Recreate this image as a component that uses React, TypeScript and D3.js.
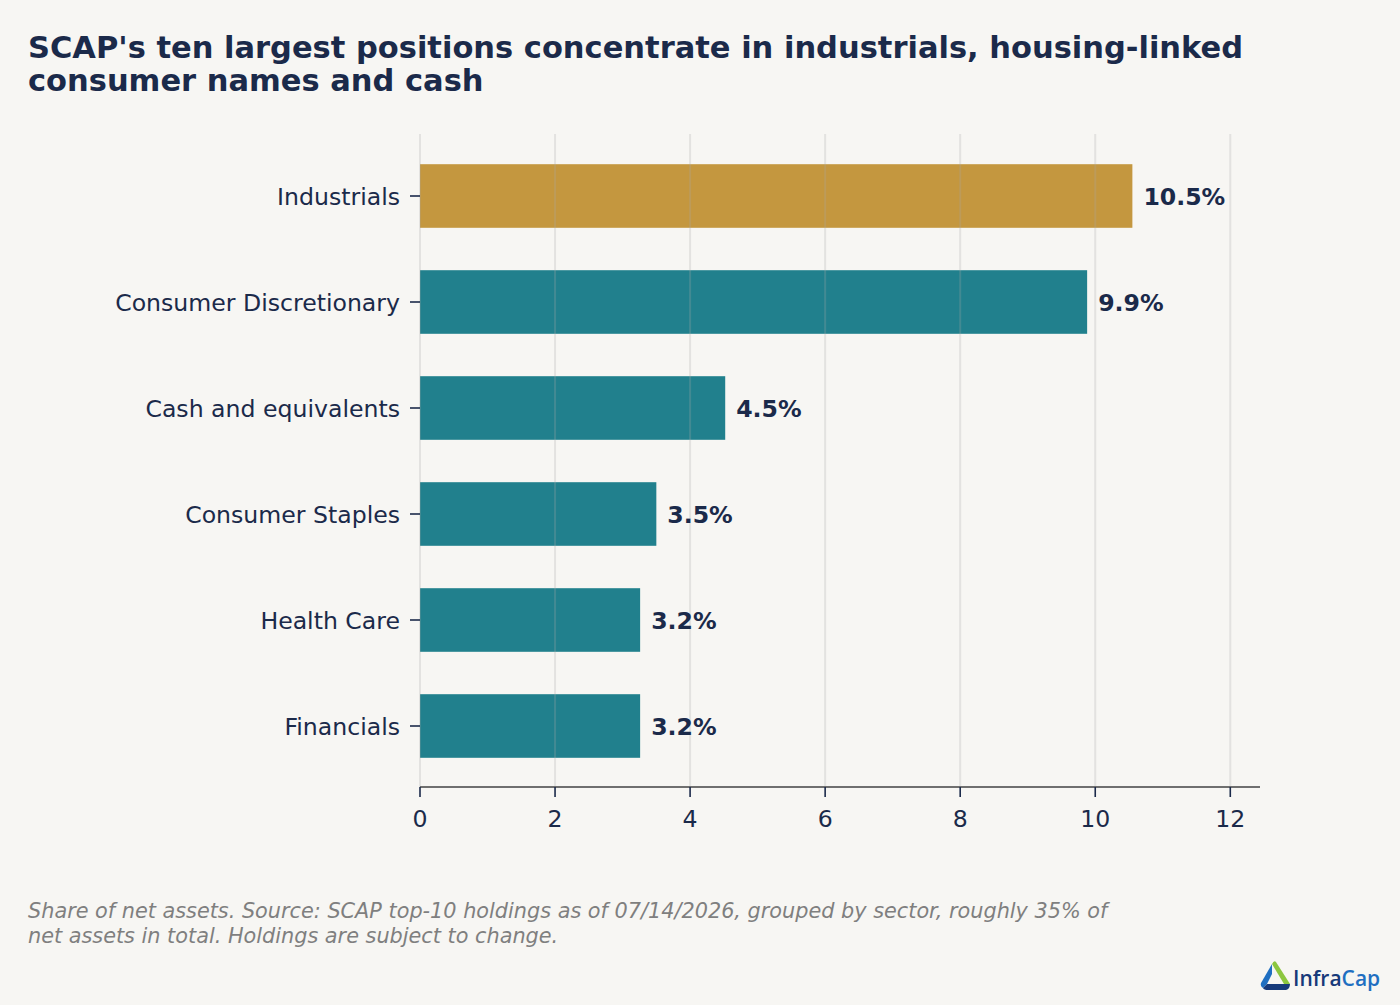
import React from 'react';
import * as d3 from 'd3';

const categories = [
  'Industrials',
  'Consumer Discretionary',
  'Cash and equivalents',
  'Consumer Staples',
  'Health Care',
  'Financials',
];
const shares = [10.55, 9.88, 4.52, 3.5, 3.26, 3.26];
const shareLabels = ['10.5%', '9.9%', '4.5%', '3.5%', '3.2%', '3.2%'];
const xTicks = [0, 2, 4, 6, 8, 10, 12];

const titleLines = [
  "SCAP's ten largest positions concentrate in industrials, housing-linked",
  'consumer names and cash',
];
const noteLines = [
  'Share of net assets. Source: SCAP top-10 holdings as of 07/14/2026, grouped by sector, roughly 35% of',
  'net assets in total. Holdings are subject to change.',
];

const W = 1400;
const H = 1005;
const NAVY = '#1b2a4a';
const TEAL = '#21808d';
const GOLD = '#c4973f';
const FONT = '"DejaVu Sans", Verdana, sans-serif';

const App: React.FC = () => {
  const x = d3.scaleLinear().domain([0, 12.44]).range([420, 1260]);
  const y = d3
    .scaleBand<string>()
    .domain(categories)
    .range([143, 779])
    .paddingInner(0.4)
    .paddingOuter(0.2);
  const axisY = 787;

  return (
    <svg
      width={W}
      height={H}
      style={{ position: 'absolute', left: 0, top: 0, display: 'block' }}
      fontFamily={FONT}
    >
      <rect width={W} height={H} fill="#f7f6f3" />

      {titleLines.map((t, i) => (
        <text key={t} x={28} y={58 + i * 32.5} fontSize={30.5} fontWeight="bold" fill={NAVY}>
          {t}
        </text>
      ))}

      {/* bars */}
      {categories.map((c, i) => (
        <rect
          key={c}
          x={x(0)}
          y={y(c)}
          width={x(shares[i]) - x(0)}
          height={y.bandwidth()}
          fill={i === 0 ? GOLD : TEAL}
        />
      ))}

      {/* vertical grid, drawn faintly over the bars */}
      {xTicks.map((t) => (
        <line
          key={t}
          x1={x(t)}
          x2={x(t)}
          y1={134}
          y2={axisY}
          stroke="#a8a8a8"
          strokeOpacity={0.25}
          strokeWidth={2}
        />
      ))}

      {/* value labels */}
      {categories.map((c, i) => (
        <text
          key={c}
          x={x(shares[i]) + 11}
          y={(y(c) ?? 0) + y.bandwidth() / 2}
          dy="0.38em"
          fontSize={23.6}
          fontWeight="bold"
          fill={NAVY}
        >
          {shareLabels[i]}
        </text>
      ))}

      {/* y axis ticks + labels */}
      {categories.map((c) => {
        const cy = (y(c) ?? 0) + y.bandwidth() / 2;
        return (
          <g key={c}>
            <line x1={410} x2={420} y1={cy} y2={cy} stroke={NAVY} strokeWidth={1.6} />
            <text x={400} y={cy} dy="0.38em" textAnchor="end" fontSize={23.6} fill={NAVY}>
              {c}
            </text>
          </g>
        );
      })}

      {/* x axis */}
      <line x1={x(0)} x2={1260} y1={axisY} y2={axisY} stroke="#6f6f6f" strokeWidth={1.8} />
      {xTicks.map((t) => (
        <g key={t}>
          <line x1={x(t)} x2={x(t)} y1={axisY} y2={axisY + 10} stroke={NAVY} strokeWidth={1.6} />
          <text x={x(t)} y={827} textAnchor="middle" fontSize={23.6} fill={NAVY}>
            {t}
          </text>
        </g>
      ))}

      {noteLines.map((t, i) => (
        <text key={t} x={28} y={918 + i * 24.5} fontSize={20.8} fontStyle="italic" fill="#7f7f7f">
          {t}
        </text>
      ))}

      {/* InfraCap logo */}
      <g>
        <path d="M1272,964 L1284,984 L1290,984 L1276,962 Q1274,960 1272,964 Z" fill="#8cc63f" />
        <path d="M1272,964 L1261,983 Q1260,986 1263,988 L1267,984 L1272,974 Z" fill="#1f6fc1" />
        <path d="M1263,988 Q1264,990 1268,990 L1286,990 Q1290,989 1290,984 L1267,984 Z" fill="#173a7a" />
        <text x={1293} y={986} fontFamily='"Open Sans", "Noto Sans", sans-serif' fontSize={21} fontWeight={600}>
          <tspan fill="#173a7a">Infra</tspan>
          <tspan fill="#1f6fc1">Cap</tspan>
        </text>
      </g>
    </svg>
  );
};

export default App;
